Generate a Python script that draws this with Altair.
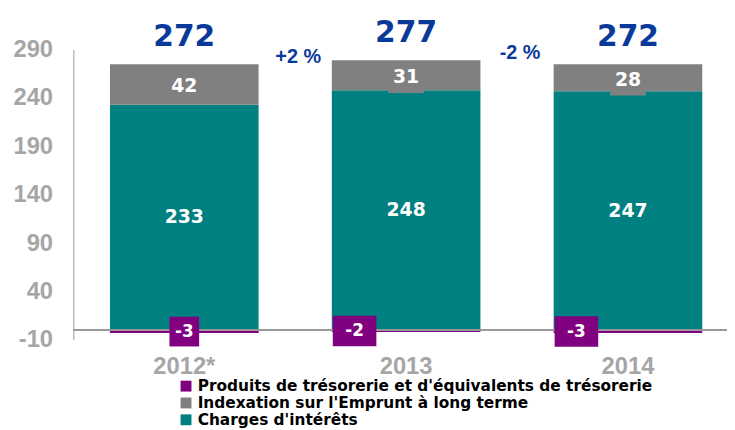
import altair as alt
import pandas as pd

years = ["2012*", "2013", "2014"]
charges = [233, 248, 247]
indexation = [42, 31, 28]
produits = [-3, -2, -3]
totals = [272, 277, 272]
variation_from = ["2012*", "2013"]
variation_labels = ["+2 %", "-2 %"]

s_prod = "Produits de trésorerie et d'équivalents de trésorerie"
s_idx = "Indexation sur l'Emprunt à long terme"
s_chg = "Charges d'intérêts"
series = [s_prod, s_idx, s_chg]
colors = ["#800080", "#808080", "#008080"]

rows = []
for i, y in enumerate(years):
    rows.append({"year": y, "series": s_chg, "value": charges[i], "ord": 1, "mid": charges[i] / 2})
    rows.append({"year": y, "series": s_idx, "value": indexation[i], "ord": 2, "mid": charges[i] + indexation[i] / 2})
    rows.append({"year": y, "series": s_prod, "value": produits[i], "ord": 0, "mid": produits[i] / 2})
df = pd.DataFrame(rows)
df["txt"] = df["value"].astype(int).astype(str)

tops = pd.DataFrame({"year": years, "top": [c + x for c, x in zip(charges, indexation)], "total": totals})
var_df = pd.DataFrame({"year": variation_from, "label": variation_labels,
                       "top": [charges[years.index(y)] + indexation[years.index(y)] for y in variation_from]})

BLUE = "#0A3A99"
xscale = alt.Scale(domain=years, range=[0, 672], paddingInner=0.33, paddingOuter=0.165)
yscale = alt.Scale(domain=[-10, 290], nice=False, zero=False)

x_enc = alt.X("year:N", scale=xscale, sort=years,
              axis=alt.Axis(title=None, domain=False, ticks=False, tickSize=0, labelAngle=0,
                            labelFont="Liberation Sans", labelFontWeight="bold", labelFontSize=24,
                            labelColor="#A6A6A6", labelPadding=15))

bars = alt.Chart(df).mark_bar().encode(
    x=x_enc,
    y=alt.Y("value:Q", scale=yscale, stack="zero",
            axis=alt.Axis(title=None, values=[-10, 40, 90, 140, 190, 240, 290], grid=False,
                          ticks=False, tickSize=0, domainColor="#999999", domainWidth=1,
                          labelExpr="replace(datum.label, '\u2212', '-')",
                          labelFont="Liberation Sans", labelFontWeight="bold", labelFontSize=24,
                          labelColor="#A6A6A6", labelPadding=21)),
    color=alt.Color("series:N", scale=alt.Scale(domain=series, range=colors),
                    legend=alt.Legend(orient="none", legendX=106, legendY=332, title=None,
                                      symbolType="square", symbolSize=121, symbolStrokeWidth=0,
                                      labelFont="DejaVu Sans", labelFontWeight="bold",
                                      labelFontSize=15.5, labelColor="black", rowPadding=0,
                                      labelOffset=4, labelLimit=0)),
    order=alt.Order("ord:Q"),
)

zero_rule = alt.Chart(df).mark_rule(color="#999999", strokeWidth=1).encode(y=alt.datum(0))

idx_df = df[df.series == s_idx]
chg_df = df[df.series == s_chg]
prod_df = df[df.series == s_prod]

box_shape = "M-1,-0.6H1V1H-1Z"
idx_boxes = alt.Chart(idx_df).mark_point(shape=box_shape, filled=True, size=1296, opacity=1,
                                         color="#808080").encode(
    x=alt.X("year:N", sort=years), y=alt.Y("mid:Q"))
idx_text = alt.Chart(idx_df).mark_text(font="DejaVu Sans", fontWeight="bold", fontSize=19,
                                       color="white", baseline="middle", dy=2).encode(
    x=alt.X("year:N", sort=years), y=alt.Y("mid:Q"), text=alt.Text("txt:N"))
chg_text = alt.Chart(chg_df).mark_text(font="DejaVu Sans", fontWeight="bold", fontSize=19,
                                       color="white", baseline="middle").encode(
    x=alt.X("year:N", sort=years), y=alt.Y("mid:Q"), text=alt.Text("txt:N"))

prod_first = prod_df[prod_df.year == years[0]]
prod_rest = prod_df[prod_df.year != years[0]]
pbox_shape = "M-1,-1H1V1H-1Z"
pbox1 = alt.Chart(prod_first).mark_point(shape=pbox_shape, filled=True, size=900, opacity=1,
                                         color="#800080").encode(
    x=alt.X("year:N", sort=years), y=alt.Y("mid:Q"))
ptext1 = alt.Chart(prod_first).mark_text(font="DejaVu Sans", fontWeight="bold", fontSize=17,
                                         color="white", baseline="middle").encode(
    x=alt.X("year:N", sort=years), y=alt.Y("mid:Q"), text=alt.Text("txt:N"))
pbox_shape2 = "M-1,-0.7H1V0.7H-1Z"
pbox2 = alt.Chart(prod_rest).mark_point(shape=pbox_shape2, filled=True, size=1936, opacity=1,
                                        color="#800080", xOffset=23).encode(
    x=alt.X("year:N", sort=years, bandPosition=0), y=alt.Y("mid:Q"))
ptext2 = alt.Chart(prod_rest).mark_text(font="DejaVu Sans", fontWeight="bold", fontSize=17,
                                        color="white", baseline="middle", dx=23).encode(
    x=alt.X("year:N", sort=years, bandPosition=0), y=alt.Y("mid:Q"), text=alt.Text("txt:N"))

total_text = alt.Chart(tops).mark_text(font="DejaVu Sans", fontWeight="bold", fontSize=30,
                                       color=BLUE, baseline="middle", dy=-27).encode(
    x=alt.X("year:N", sort=years), y=alt.Y("top:Q"), text=alt.Text("total:Q"))

var_text = alt.Chart(var_df).mark_text(font="Liberation Sans", fontWeight="bold", fontSize=20,
                                       color=BLUE, baseline="middle", dx=40, dy=-7).encode(
    x=alt.X("year:N", sort=years, bandPosition=1), y=alt.Y("top:Q"), text=alt.Text("label:N"))

chart = alt.layer(bars, zero_rule, idx_boxes, idx_text, chg_text, pbox1, ptext1, pbox2, ptext2,
                  total_text, var_text).properties(
    width=660, height=293,
    autosize=alt.AutoSizeParams(type="none"),
    padding={"left": 66, "top": 40, "right": 0, "bottom": 89},
).configure_view(stroke=None)

chart.save("out.html", embed_options={"renderer": "svg", "actions": False})
